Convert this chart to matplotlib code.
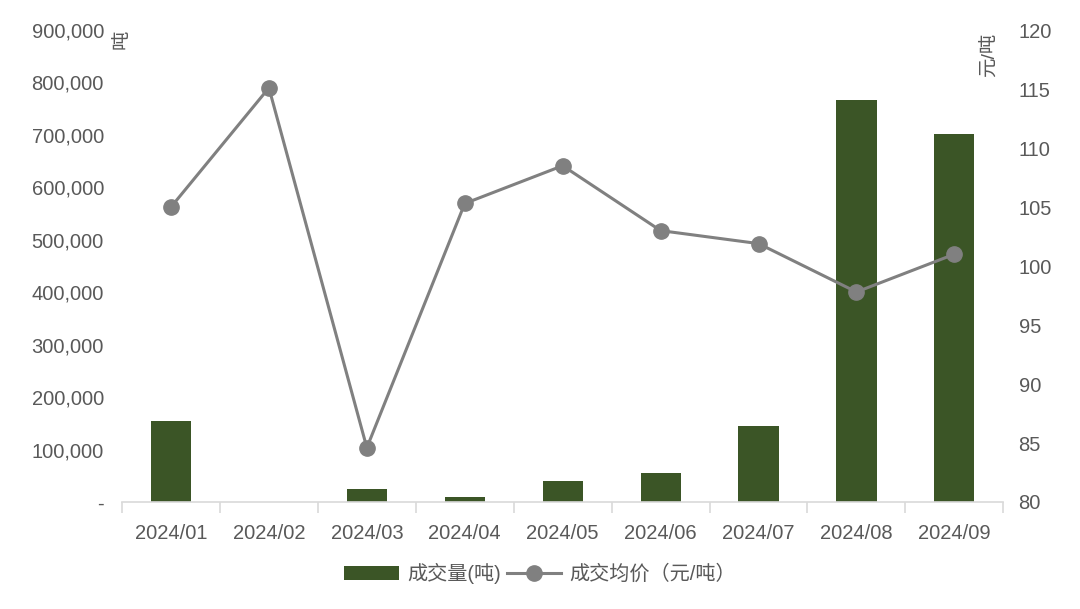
import matplotlib
matplotlib.use("Agg")
import matplotlib.pyplot as plt
from matplotlib.ticker import FuncFormatter, FixedLocator
import numpy as np

plt.rcParams['font.family'] = ['Liberation Sans', 'Noto Sans CJK SC', 'DejaVu Sans']

months = ["2024/01", "2024/02", "2024/03", "2024/04", "2024/05",
          "2024/06", "2024/07", "2024/08", "2024/09"]
volume = [155000, 0, 25000, 10000, 40000, 55000, 145000, 766000, 702000]
price = [105.0, 115.1, 84.6, 105.3, 108.5, 103.0, 101.9, 97.8, 101.0]

bar_color = '#3b5526'
line_color = '#808080'
text_color = '#595959'
fs = 14.5

fig = plt.figure(figsize=(10.8, 6.09), dpi=100)
ax = fig.add_axes([0.113, 0.1757, 0.816, 0.775])
ax2 = ax.twinx()

x = np.arange(len(months))
bars = ax.bar(x, volume, width=0.41, color=bar_color, label='成交量(吨)', zorder=2)
ln, = ax2.plot(x, price, color=line_color, lw=2.2, marker='o', markersize=11,
               label='成交均价（元/吨）', zorder=3)

ax.set_xlim(-0.5, len(months) - 0.5)
ax.set_ylim(0, 900000)
ax2.set_ylim(80, 120)
ax.set_yticks(np.arange(0, 900001, 100000))
ax2.set_yticks(np.arange(80, 121, 5))
ax.yaxis.set_major_formatter(FuncFormatter(lambda v, p: '-' if v == 0 else f'{int(v):,}'))

ax.set_xticks(x)
ax.set_xticklabels(months)
ax.xaxis.set_minor_locator(FixedLocator(np.arange(-0.5, len(months), 1.0)))
ax.tick_params(axis='x', which='major', length=0, pad=16, labelsize=fs, labelcolor=text_color)
ax.tick_params(axis='x', which='minor', length=8, width=1.2, color='#d9d9d9', direction='out')
ax.tick_params(axis='y', length=0, pad=13, labelsize=fs, labelcolor=text_color)
ax2.tick_params(axis='y', length=0, pad=11, labelsize=fs, labelcolor=text_color)

for a in (ax, ax2):
    for s in ('top', 'left', 'right'):
        a.spines[s].set_visible(False)
ax2.spines['bottom'].set_visible(False)
ax.spines['bottom'].set_color('#d9d9d9')
ax.spines['bottom'].set_linewidth(1.2)

fig.text(0.113, 0.935, '吨', rotation=90, fontsize=14, color=text_color, ha='center', va='center')
fig.text(0.916, 0.91, '元/吨', rotation=90, fontsize=14, color=text_color, ha='center', va='center')

fig.legend(handles=[bars, ln], labels=['成交量(吨)', '成交均价（元/吨）'],
           loc='center', bbox_to_anchor=(0.5, 0.059), ncol=2, frameon=False,
           fontsize=fs, labelcolor=text_color, handlelength=2.7, handleheight=0.7,
           columnspacing=0.3, handletextpad=0.4)

fig.savefig('out.png', dpi=100)
